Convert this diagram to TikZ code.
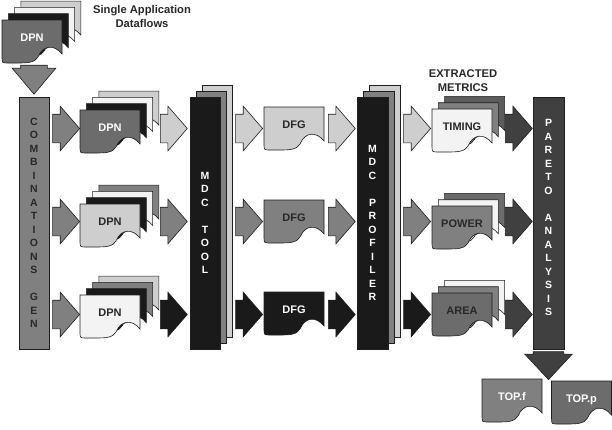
\documentclass[tikz,border=0pt]{standalone}
\usepackage{fontspec}
\setmainfont{Liberation Sans}
\usetikzlibrary{positioning}
\usetikzlibrary{shapes.arrows}
\usetikzlibrary{calc}

\definecolor{cLight}{RGB}{206,206,206}
\definecolor{cWhite}{RGB}{243,243,243}
\definecolor{cMid}{RGB}{128,128,128}
\definecolor{cDark}{RGB}{108,108,108}
\definecolor{cDeep}{RGB}{92,92,92}
\definecolor{cBlack}{RGB}{26,26,26}
\definecolor{cPareto}{RGB}{64,64,64}
\definecolor{cText}{RGB}{40,40,40}
\definecolor{cLine}{RGB}{30,30,30}

\tikzset{
  docpage/.pic={
    \path[draw=cLine, line width=.6pt, pic actions]
      (0,0) -- (60,0) -- (60,34)
      .. controls (52,24) and (41,25) .. (36,37)
      .. controls (33,43) and (24,43) .. (15,43) -- (6,43)
      .. controls (0,43) .. (0,37) -- cycle;
  },
  pagetext/.style={minimum width=60pt, minimum height=43pt, inner sep=0pt,
    text height=8pt, text depth=9pt, text=cText,
    font=\bfseries\fontsize{11}{13}\selectfont},
  bar/.style={draw=cLine, line width=.6pt, minimum width=30pt,
    minimum height=252pt, inner sep=0pt, align=center,
    font=\bfseries\fontsize{10.5}{13.5}\selectfont},
  blockarr/.style={single arrow, draw=cLine, line width=.6pt, inner xsep=0pt,
    inner ysep=14pt, minimum height=27pt, single arrow head extend=8pt,
    single arrow tip angle=98},
  downarr/.style={blockarr, rotate=-90, inner ysep=13pt, minimum height=29pt,
    single arrow head extend=8.5pt, single arrow tip angle=80},
  note/.style={align=center, text=cText,
    font=\bfseries\fontsize{11.2}{14}\selectfont},
}

% page stack: x, y of front page, list offset/colour from back to front
\newcommand{\docstack}[3]{%
  \foreach \o/\col in {#3}{\pic[fill=\col] at (#1+\o,#2-\o) {docpage};}}

\begin{document}
\begin{tikzpicture}[x=1pt,y=-1pt]
\useasboundingbox (0,0) rectangle (612,429);

\coordinate (r1) at (0,128.5);
\coordinate (r2) at (0,221.5);
\coordinate (r3) at (0,314.5);

% single application dataflows
\docstack{2}{20}{18.9/cLight, 12.6/cWhite, 6.3/cBlack, 0/cDark}
\node[pagetext, text=white] (src) at (32,41.5) {DPN};
\node[note] (single) at (142,16.5) {Single Application\\Dataflows};

% bars
\node[bar, fill=cMid, text=cText] (comb) at (34,223)
  {C\\O\\M\\B\\I\\N\\A\\T\\I\\O\\N\\S\\[13.5pt]G\\E\\N};

\draw[fill=cLight, draw=cLine, line width=.6pt]
  (202,85) rectangle (232,337);
\draw[fill=cMid, draw=cLine, line width=.6pt]
  (196,91) rectangle (226,343);
\node[bar, fill=cBlack, text=white] (tool) at (205,223)
  {M\\D\\C\\[13.5pt]T\\O\\O\\L};

\draw[fill=cLight, draw=cLine, line width=.6pt]
  (369,85) rectangle (400,337);
\draw[fill=cMid, draw=cLine, line width=.6pt]
  (363,91) rectangle (394,343);
\node[bar, fill=cBlack, text=white, minimum width=31pt] (prof) at (372.5,223)
  {M\\D\\C\\[13.5pt]P\\R\\O\\F\\I\\L\\E\\R};

\node[bar, fill=cPareto, text=white, minimum width=31pt, text depth=11pt]
  (pareto) at (548.5,223)
  {P\\A\\R\\E\\T\\O\\[13.5pt]A\\N\\A\\L\\Y\\S\\I\\S};

% row 1
\docstack{80}{110}{18.9/cLight, 12.6/cWhite, 6.3/cBlack, 0/cDark}
\node[pagetext, text=white] (dpnA) at (110,131.5) {DPN};
\pic[fill=cLight] at (264,107) {docpage};
\node[pagetext] (dfgA) at (294,128.5) {DFG};
\docstack{432}{109}{12.6/cDeep, 6.3/cMid, 0/cWhite}
\node[pagetext] (timing) at (462,130.5) {TIMING};

% row 2
\docstack{80}{204}{18.9/cMid, 12.6/cWhite, 6.3/cBlack, 0/cLight}
\node[pagetext] (dpnB) at (110,225.5) {DPN};
\pic[fill=cMid] at (264,200) {docpage};
\node[pagetext] (dfgB) at (294,221.5) {DFG};
\docstack{432}{206}{12.6/cDark, 6.3/cWhite, 0/cMid}
\node[pagetext] (power) at (462,227.5) {POWER};

% row 3
\docstack{80}{295}{18.9/cLight, 12.6/cMid, 6.3/cBlack, 0/cWhite}
\node[pagetext] (dpnC) at (110,316.5) {DPN};
\pic[fill=cBlack] at (264,292) {docpage};
\node[pagetext, text=white] (dfgC) at (294,313.5) {DFG};
\docstack{432}{293}{12.6/cWhite, 6.3/cMid, 0/cDark}
\node[pagetext] (area) at (462,314.5) {AREA};

\node[note] (metrics) at (463,80.5) {EXTRACTED\\METRICS};

% arrows between the stages
\foreach \r/\col in {r1/cLight, r2/cMid, r3/cBlack}{
  \node[blockarr, fill=cMid, anchor=tail] (gen\r) at ($(comb.east |- \r)+(3,0)$) {};
  \node[blockarr, fill=\col, anchor=tip] (dpn\r) at ($(tool.west |- \r)+(-2,0)$) {};
  \node[blockarr, fill=\col, anchor=tail] (tool\r) at ($(tool.east |- \r)+(15,0)$) {};
  \node[blockarr, fill=\col, anchor=tip] (dfg\r) at ($(prof.west |- \r)+(-1,0)$) {};
  \node[blockarr, fill=\col, anchor=tail] (prof\r) at ($(prof.east |- \r)+(15,0)$) {};
  \node[blockarr, fill=cPareto, anchor=tip] (met\r) at (pareto.west |- \r) {};
}

\node[downarr, fill=cMid, anchor=tip] (down) at ($(comb.north)+(0,-2)$) {};
\node[downarr, fill=cPareto, inner ysep=15pt, minimum height=28pt,
  single arrow tip angle=86, anchor=tail] (best) at ($(pareto.south)+(0,2)$) {};

% pareto results
\pic[fill=cMid] at (482,379) {docpage};
\node[pagetext, text=white] (topf) at (512,400.5) {TOP.f};
\pic[fill=cDark] at (551.5,381) {docpage};
\node[pagetext, text=white] (topp) at (581.5,402.5) {TOP.p};

\end{tikzpicture}
\end{document}
